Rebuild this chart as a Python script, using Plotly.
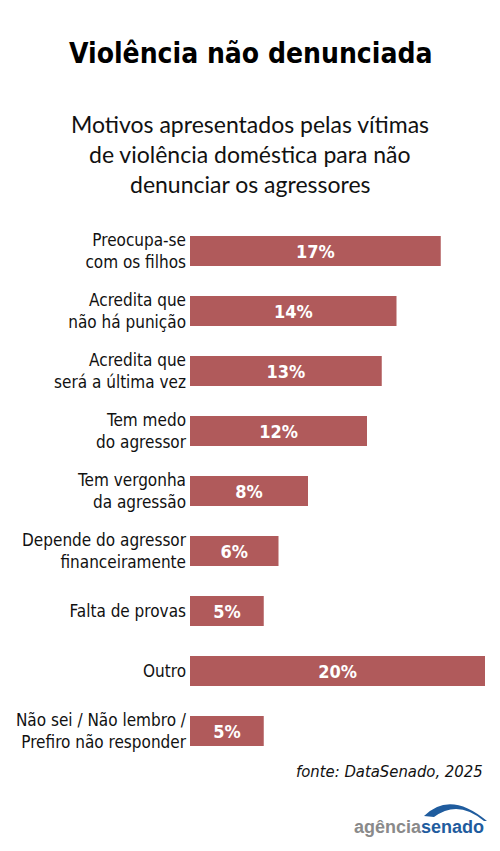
import plotly.graph_objects as go

categories = [
    "Preocupa-se<br>com os filhos",
    "Acredita que<br>não há punição",
    "Acredita que<br>será a última vez",
    "Tem medo<br>do agressor",
    "Tem vergonha<br>da agressão",
    "Depende do agressor<br>financeiramente",
    "Falta de provas",
    "Outro",
    "Não sei / Não lembro /<br>Prefiro não responder",
]
values = [17, 14, 13, 12, 8, 6, 5, 20, 5]
value_labels = [f"{v}%" for v in values]

title = "Violência não denunciada"
subtitle_lines = [
    "Motivos apresentados pelas vítimas",
    "de violência doméstica para não",
    "denunciar os agressores",
]
source = "fonte: DataSenado, 2025"

# the page body adds an 8px margin, so the figure is a bit smaller than the window
OFF = 8
W, H = 500 - OFF, 851 - OFF
PLOT_L, PLOT_R, PLOT_T, PLOT_B = 190, 485, 221, 761   # plot box in window pixels
L, R = PLOT_L - OFF, W - (PLOT_R - OFF)
T, B = PLOT_T - OFF, H - (PLOT_B - OFF)

# window pixel -> paper coords, for things placed outside the plot box
def px(x):
    return (x - PLOT_L) / (PLOT_R - PLOT_L)

def py(y):
    return (PLOT_B - y) / (PLOT_B - PLOT_T)

narrow = "DejaVu Sans Condensed, Liberation Sans Narrow, sans-serif"
bar_color = "#b05a5b"
logo_blue = "#1f5c9e"

fig = go.Figure()
fig.add_trace(go.Bar(
    x=values,
    y=categories,
    orientation="h",
    width=0.5,
    marker=dict(color=bar_color, line=dict(width=0)),
    text=value_labels,
    textposition="inside",
    insidetextanchor="middle",
    textangle=0,
    textfont=dict(family=narrow, size=18, color="white", weight="bold"),
    hoverinfo="skip",
))

annotations = [
    dict(text=f"<b>{title}</b>", x=px(250), y=py(53),
         font=dict(family=narrow, size=28, color="black")),
]
for i, line in enumerate(subtitle_lines):
    annotations.append(dict(text=line, x=px(250), y=py(124 + 30 * i),
                            font=dict(family="Lato", size=23, color="#111111")))
annotations.append(dict(text=f"<i>{source}</i>", x=px(485), y=py(771), xanchor="right",
                        font=dict(family=narrow, size=16.5, color="#111111")))
annotations.append(dict(
    text=f"<b><span style='color:#8a8a8a'>agência</span><span style='color:{logo_blue}'>senado</span></b>",
    x=px(486), y=py(827), xanchor="right",
    font=dict(family="Liberation Sans, Arial, sans-serif", size=18)))
for a in annotations:
    a.setdefault("xanchor", "center")
    a.update(xref="paper", yref="paper", yanchor="middle", showarrow=False)

# arc over the logo
arc = (f"M {px(424)},{py(816)} Q {px(450)},{py(790)} {px(487)},{py(821)} "
       f"L {px(484)},{py(821)} Q {px(458)},{py(799)} {px(434)},{py(817)} Z")

fig.update_layout(
    width=W, height=H,
    margin=dict(l=L, r=R, t=T, b=B, autoexpand=False),
    paper_bgcolor="white",
    plot_bgcolor="white",
    showlegend=False,
    xaxis=dict(range=[0, 20], visible=False, fixedrange=True, automargin=False),
    yaxis=dict(
        range=[8.5, -0.5],
        automargin=False,
        showgrid=False, zeroline=False, showline=False,
        ticks="", ticklabelstandoff=3,
        tickfont=dict(family=narrow, size=17, color="#111111"),
        fixedrange=True,
    ),
    annotations=annotations,
    shapes=[dict(type="path", path=arc, xref="paper", yref="paper",
                 fillcolor=logo_blue, line=dict(width=0))],
)

fig.write_html("out.html")
